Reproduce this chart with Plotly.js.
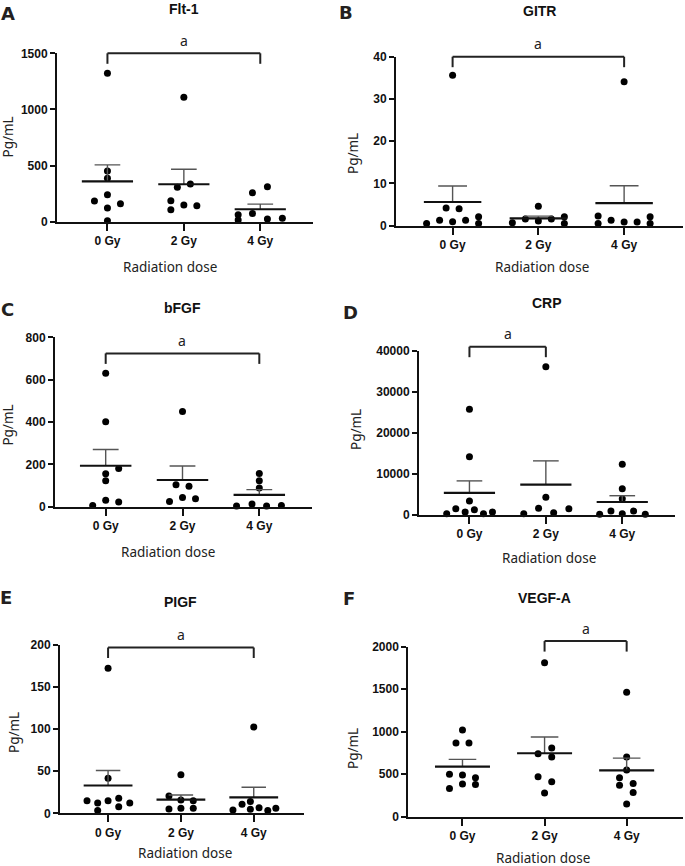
<!DOCTYPE html>
<html><head><meta charset="utf-8">
<script src="https://cdn.plot.ly/plotly-3.0.1.min.js"></script>
<style>html,body{margin:0;padding:0;background:#fff}</style>
</head><body><div id="chart" style="width:685px;height:866px"></div>
<script>
// ---------------- DATA ----------------
const categories = ['0 Gy', '2 Gy', '4 Gy'];
const panelLetters = ['A', 'B', 'C', 'D', 'E', 'F'];
const panelTitles = ['Flt-1', 'GITR', 'bFGF', 'CRP', 'PIGF', 'VEGF-A'];
const yAxisTitle = 'Pg/mL';
const xAxisTitle = 'Radiation dose';
const yMax = [1500, 40, 800, 40000, 200, 2000];
const yStep = [500, 10, 200, 10000, 50, 500];

// individual sample values per dose group (0 Gy, 2 Gy, 4 Gy)
const flt1Values = [[1322, 451, 386, 241, 184, 160, 122, 9], [1108, 306, 336, 187, 107, 148, 143], [258, 312, 62, 74, 15, 24, 30]];
const gitrValues = [[35.6, 4.2, 4.0, 2.1, 1.3, 1.3, 0.95, 0.5, 0.5], [4.6, 2.1, 1.6, 1.6, 1.1, 0.7, 0.5], [34.1, 2.3, 2.1, 1.3, 0.9, 0.9, 0.5, 0.5]];
const bfgfValues = [[630, 401, 180, 156, 123, 30, 22, 6], [450, 104, 96, 44, 38, 25], [157, 123, 88, 13, 6, 3, 3]];
const crpValues = [[25780, 14220, 3415, 1545, 1300, 732, 732, 325, 325], [36170, 4310, 1626, 1545, 570, 325], [12360, 6420, 3980, 975, 975, 325, 160, 160]];
const pigfValues = [[172.3, 41.6, 17.8, 15, 15, 12.3, 12.3, 7.9, 3.2], [45.9, 20.6, 15.8, 15, 5.9, 5.9, 5.1], [102.5, 13.9, 10.7, 6.7, 5.9, 4.75, 4, 3.2]];
const vegfaValues = [[1020, 867, 867, 498, 490, 459, 384, 380, 333], [1812, 808, 741, 702, 471, 412, 278], [1463, 702, 549, 459, 392, 369, 286, 149]];

// scatter-dot lane (beeswarm slot) of each sample, in dot-widths
const flt1Lanes = [[0, 0, 0, 0, -1, 1, 0, 0], [0, -0.5, 0.5, -1, -1, 0, 1], [-0.6, 0.55, -1.7, -0.6, -1.7, 0.55, 1.7]];
const gitrLanes = [[0, -0.5, 0.5, 2, -1, 1, 0, -2, 2], [0, 2, -1, 1, 0, -2, 2], [0, -2, 2, -1, 0, 1, -2, 2]];
const bfgfLanes = [[0, 0, 1, 0, 0, 0, 1, -1], [0, -0.5, 0.5, 0, 1, -1], [0, 0, 0, -0.56, 1.7, -1.75, 0.56]];
const crpLanes = [[0, 0, 0, -1.05, 0.38, -0.33, 1.77, -1.75, 1.08], [0, 0, -0.56, 1.77, 0.6, -1.7], [0, 0, 0, -0.87, 0.87, 0, -1.74, 1.77]];
const pigfLanes = [[0, 0, 0.82, -1.62, 0, -0.8, 1.67, 0.82, -0.8], [0, -0.92, 0, 0.95, 0, 0.95, -0.92], [0, -0.26, -0.9, 0.41, 1.7, -0.26, -1.6, 1.08]];
const vegfaLanes = [[0, -0.5, 0.5, -1, 0, 1, 0, 1, -1], [0, 0.55, -0.5, 0.55, -0.5, 0.55, 0], [0, 0, 0, -0.55, 0.5, -0.55, 0.5, 0]];

// significance brackets
const sigPairs = [[0, 2], [0, 2], [0, 2], [0, 1], [0, 2], [1, 2]];
const sigLevel = [1500, 40, 724, 41050, 197, 2066];
const sigLabel = ['a', 'a', 'a', 'a', 'a', 'a'];

// ---------------- LAYOUT GEOMETRY (pixels) ----------------
const W = 685, H = 866;
const XR = [-0.66, 2.69];
const LANE_PX = 13;
const GEOM = [
  {l: 57, r: 313, t: 53.3, b: 221.7, letter: [7.5, 14], title: [184, 9.5], xt: [170, 266.7], yt: [7.5, 137]},
  {l: 396, r: 683.3, t: 56.7, b: 225.7, letter: [346.5, 12.5], title: [539, 10.5], xt: [541.7, 267], yt: [353, 153]},
  {l: 55, r: 312.3, t: 337.3, b: 506.7, letter: [8, 309.5], title: [182, 308], xt: [168.3, 551.7], yt: [8, 425.6]},
  {l: 419, r: 675, t: 351, b: 515, letter: [350.5, 313], title: [546.7, 302.5], xt: [548.8, 557.7], yt: [356, 430]},
  {l: 60, r: 304, t: 645, b: 813.3, letter: [6, 597.5], title: [180, 601.5], xt: [185, 853.3], yt: [14, 733]},
  {l: 408.3, r: 683.3, t: 646.7, b: 816.7, letter: [349, 598.5], title: [544, 598], xt: [542.5, 858.3], yt: [352.5, 748.5]}
];

const allValues = [flt1Values, gitrValues, bfgfValues, crpValues, pigfValues, vegfaValues];
const allLanes = [flt1Lanes, gitrLanes, bfgfLanes, crpLanes, pigfLanes, vegfaLanes];

const px2x = px => px / W;
const px2y = py => (H - py) / H;
const INK = '#111';
const TXT = 'Liberation Sans, Arial, sans-serif';
const HUM = 'Noto Sans, DejaVu Sans, sans-serif';
const bold = s => '<b>' + s + '</b>';

const traces = [];
const layout = {
  width: W, height: H, margin: {l: 0, r: 0, t: 0, b: 0},
  paper_bgcolor: '#fff', plot_bgcolor: 'rgba(0,0,0,0)', showlegend: false,
  shapes: [], annotations: []
};

function stats(v) {
  const n = v.length;
  const m = v.reduce((a, b) => a + b, 0) / n;
  const sd = Math.sqrt(v.reduce((a, b) => a + (b - m) * (b - m), 0) / (n - 1));
  return {mean: m, sem: sd / Math.sqrt(n)};
}

GEOM.forEach((g, k) => {
  const sfx = k === 0 ? '' : String(k + 1);
  const xa = 'x' + sfx, ya = 'y' + sfx;
  const pxPerUnit = (g.r - g.l) / (XR[1] - XR[0]);
  const laneUnit = LANE_PX / pxPerUnit;
  const vals = allValues[k], lanes = allLanes[k];

  // dots
  const px = [], py = [];
  vals.forEach((grp, i) => grp.forEach((v, j) => { px.push(i + lanes[i][j] * laneUnit); py.push(v); }));
  traces.push({type: 'scatter', mode: 'markers', x: px, y: py, xaxis: xa, yaxis: ya,
    cliponaxis: false, marker: {size: 7, color: '#000'}, hoverinfo: 'skip'});

  // mean line and SEM (upper)
  const mx = [], my = [], sx = [], sy = [];
  vals.forEach((grp, i) => {
    const s = stats(grp);
    mx.push(i - 0.335, i + 0.335, null); my.push(s.mean, s.mean, null);
    sx.push(i, i, null, i - 0.168, i + 0.168, null);
    sy.push(s.mean, s.mean + s.sem, null, s.mean + s.sem, s.mean + s.sem, null);
  });
  traces.push({type: 'scatter', mode: 'lines', x: sx, y: sy, xaxis: xa, yaxis: ya,
    line: {color: '#555', width: 1.4}, hoverinfo: 'skip'});
  traces.push({type: 'scatter', mode: 'lines', x: mx, y: my, xaxis: xa, yaxis: ya,
    line: {color: '#111', width: 2.2}, hoverinfo: 'skip'});

  const yTicks = [];
  for (let v = 0; v <= yMax[k] + 1e-9; v += yStep[k]) yTicks.push(v);

  layout['xaxis' + sfx] = {
    domain: [px2x(g.l), px2x(g.r)], range: XR, anchor: ya,
    tickmode: 'array', tickvals: [0, 1, 2], ticktext: categories.map(bold),
    showline: true, linewidth: 2, linecolor: INK, ticks: 'outside', ticklen: 7, tickwidth: 2, tickcolor: INK,
    tickfont: {family: TXT, size: 12, color: INK},
    showgrid: false, zeroline: false, fixedrange: true
  };
  layout['yaxis' + sfx] = {
    domain: [px2y(g.b), px2y(g.t)], range: [0, yMax[k]], anchor: xa,
    tickmode: 'array', tickvals: yTicks, ticktext: yTicks.map(v => bold(String(v))),
    showline: true, linewidth: 2, linecolor: INK, ticks: 'outside', ticklen: 5, tickwidth: 2, tickcolor: INK,
    tickfont: {family: TXT, size: 12, color: INK},
    showgrid: false, zeroline: false, fixedrange: true
  };

  // significance bracket
  const [i0, i1] = sigPairs[k];
  const dx = i => (i - XR[0]) / (XR[1] - XR[0]);
  const yTop = sigLevel[k] / yMax[k];
  const yEnd = yTop - 10.5 / (g.b - g.t);
  const lineS = {color: '#222', width: 2};
  [[i0, yEnd, i0, yTop], [i0, yTop, i1, yTop], [i1, yTop, i1, yEnd]].forEach(s => {
    layout.shapes.push({type: 'line', xref: xa + ' domain', yref: ya + ' domain',
      x0: dx(s[0]), y0: s[1], x1: dx(s[2]), y1: s[3], line: lineS});
  });
  // label above the bracket (paper coords so it is drawn outside the axis range)
  const yd = layout['yaxis' + sfx].domain, xd = layout['xaxis' + sfx].domain;
  const midX = xd[0] + dx((i0 + i1) / 2) * (xd[1] - xd[0]);
  const topY = yd[0] + yTop * (yd[1] - yd[0]);
  layout.annotations.push({xref: 'paper', yref: 'paper', x: midX, y: topY, yshift: 13,
    text: sigLabel[k], showarrow: false, xanchor: 'center', yanchor: 'middle',
    font: {family: HUM, size: 14, color: '#222'}});

  // texts
  layout.annotations.push({xref: 'paper', yref: 'paper', x: px2x(g.letter[0]), y: px2y(g.letter[1]),
    text: panelLetters[k], showarrow: false, xanchor: 'center', yanchor: 'middle',
    font: {family: 'DejaVu Sans, sans-serif', size: 18, color: '#231f20', weight: 'bold'}});
  layout.annotations.push({xref: 'paper', yref: 'paper', x: px2x(g.title[0]), y: px2y(g.title[1]),
    text: bold(panelTitles[k]), showarrow: false, xanchor: 'center', yanchor: 'middle',
    font: {family: TXT, size: 14, color: INK}});
  layout.annotations.push({xref: 'paper', yref: 'paper', x: px2x(g.xt[0]), y: px2y(g.xt[1]),
    text: xAxisTitle, showarrow: false, xanchor: 'center', yanchor: 'middle',
    font: {family: HUM, size: 13.5, color: '#222'}});
  layout.annotations.push({xref: 'paper', yref: 'paper', x: px2x(g.yt[0]), y: px2y(g.yt[1]),
    text: yAxisTitle, showarrow: false, xanchor: 'center', yanchor: 'middle', textangle: -90,
    font: {family: HUM, size: 13.5, color: '#222'}});
});

Plotly.newPlot('chart', traces, layout, {staticPlot: true, displayModeBar: false});
</script></body></html>
